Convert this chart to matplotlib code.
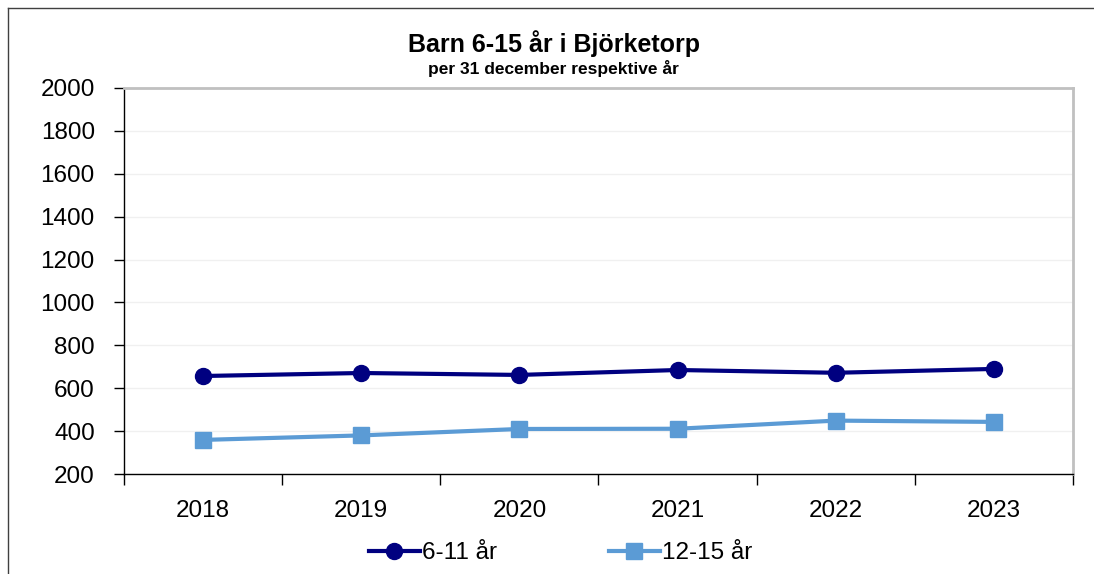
import matplotlib
matplotlib.use("Agg")
import matplotlib.pyplot as plt
from matplotlib.lines import Line2D
import numpy as np

plt.rcParams['font.family'] = ['Liberation Sans', 'DejaVu Sans']

# data
years = ['2018', '2019', '2020', '2021', '2022', '2023']
barn_6_11 = [657, 671, 662, 685, 672, 690]
barn_12_15 = [359, 380, 410, 411, 449, 443]

fig = plt.figure(figsize=(10.94, 5.74), dpi=100)
ax = fig.add_axes([0.1133, 0.1742, 0.8675, 0.6725])

x = np.arange(len(years))
ax.plot(x, barn_6_11, color='#000080', lw=3, marker='o', ms=11.5,
        label='6-11 år', solid_joinstyle='round')
ax.plot(x, barn_12_15, color='#5B9BD5', lw=3, marker='s', ms=11,
        label='12-15 år', solid_joinstyle='round')

ax.set_ylim(200, 2000)
ax.set_yticks(np.arange(200, 2001, 200))
ax.set_xlim(-0.5, len(years) - 0.5)
ax.set_xticks(x)
ax.set_xticklabels(years)
ax.set_xticks(np.arange(-0.5, len(years)), minor=True)
ax.tick_params(axis='x', which='major', length=0, pad=19, labelsize=17.5)
ax.tick_params(axis='x', which='minor', length=8, width=1, direction='out')
ax.tick_params(axis='y', length=7, width=1, pad=14, labelsize=17.5)

ax.grid(axis='y', color='#F0F0F0', lw=1)
ax.set_axisbelow(True)
for s in ['left', 'bottom']:
    ax.spines[s].set_color('#000000')
    ax.spines[s].set_linewidth(1)
for s in ['top', 'right']:
    ax.spines[s].set_color('#C0C0C0')
    ax.spines[s].set_linewidth(2)

fig.text(0.506, 0.924, 'Barn 6-15 år i Björketorp', ha='center', va='center',
         fontsize=18, fontweight='bold')
fig.text(0.506, 0.881, 'per 31 december respektive år', ha='center', va='center',
         fontsize=12.5, fontweight='bold')

ax.legend(loc='center', bbox_to_anchor=(0.46, -0.205), ncol=2, frameon=False,
          fontsize=17.5, handlelength=2.1, handletextpad=0.1, columnspacing=4.6)

# border of the embedding frame
fig.add_artist(Line2D([8 / 1094, 8 / 1094], [0, 1 - 8 / 574], color='#404040', lw=1))
fig.add_artist(Line2D([8 / 1094, 1], [1 - 8 / 574, 1 - 8 / 574], color='#404040', lw=1))

fig.savefig('out.png', dpi=100)
